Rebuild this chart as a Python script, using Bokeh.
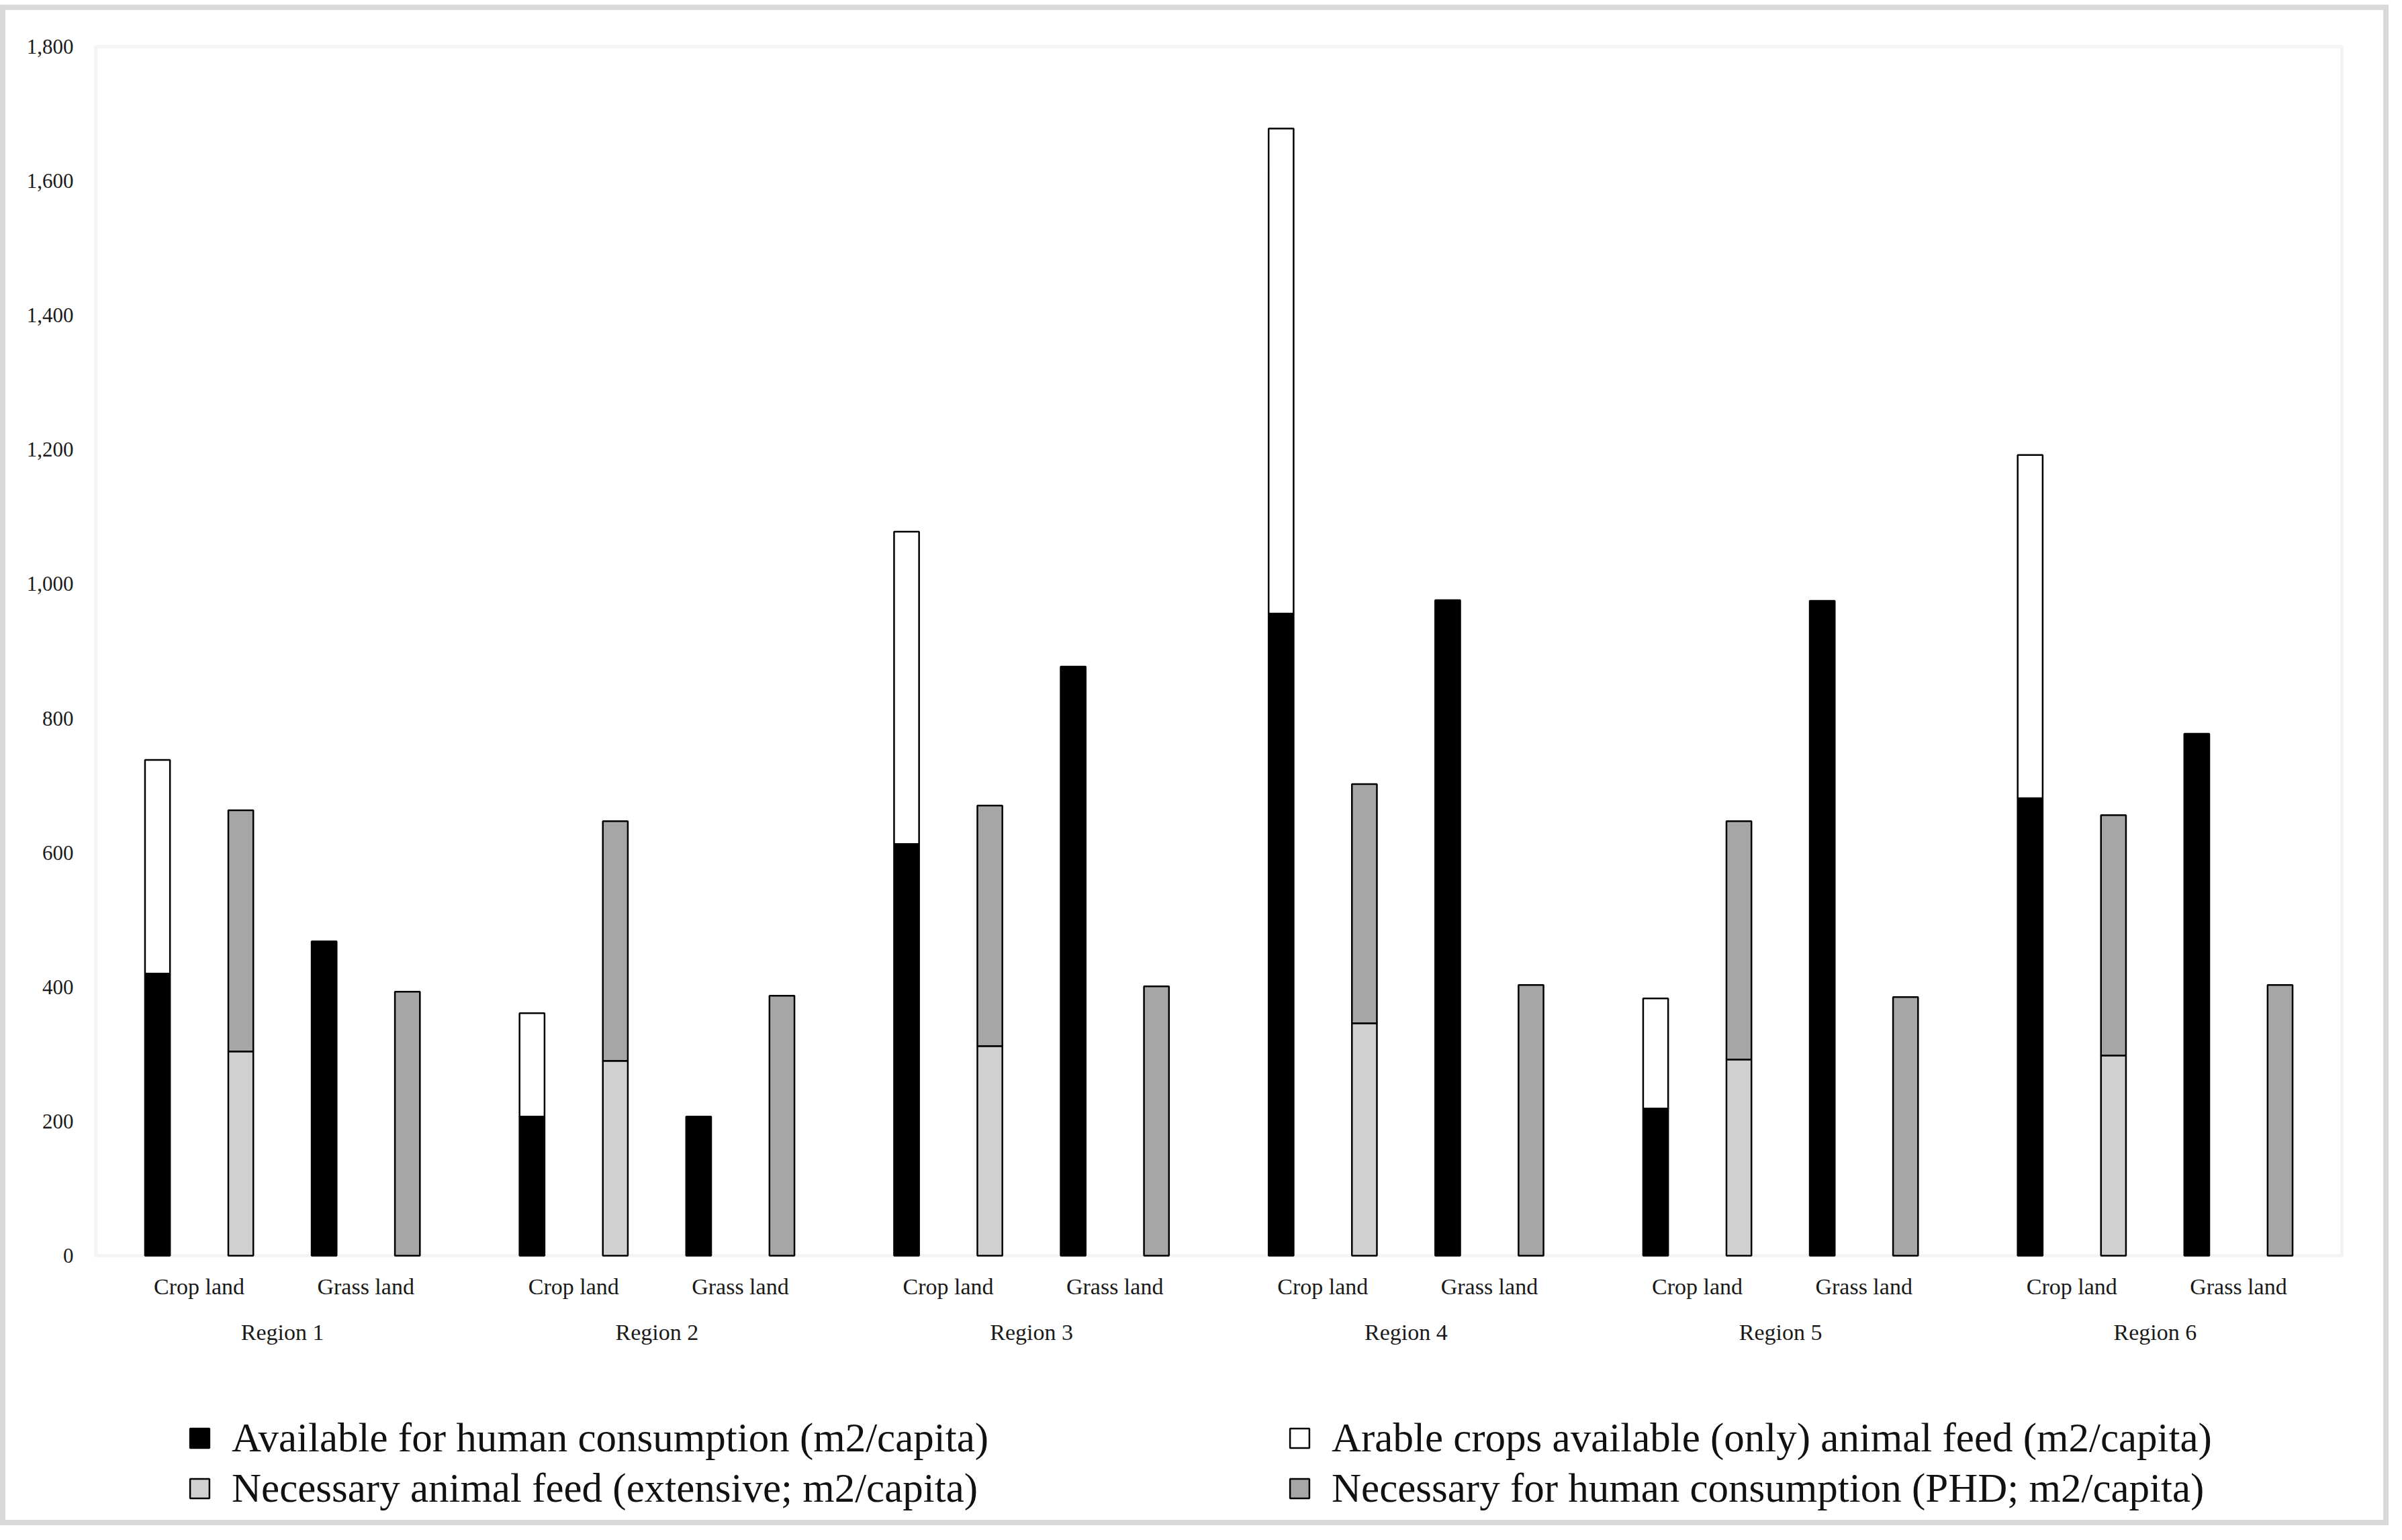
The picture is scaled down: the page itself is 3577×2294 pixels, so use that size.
from bokeh.plotting import figure
from bokeh.models import (FactorRange, ColumnDataSource, Legend, LegendItem,
                          NumeralTickFormatter, FixedTicker, Range1d, BoxAnnotation)
from bokeh.transform import dodge
from bokeh.embed import file_html
from bokeh.resources import INLINE

# ---------------- data ----------------
regions = ["Region 1", "Region 2", "Region 3", "Region 4", "Region 5", "Region 6"]
lands = ["Crop land", "Grass land"]

# Crop land
avail_crop = [420, 207, 613, 956, 219, 681]          # Available for human consumption
arable_feed_crop = [318, 154, 465, 722, 164, 511]    # Arable crops available (only) animal feed
nec_feed_crop = [304, 290, 312, 346, 292, 298]       # Necessary animal feed (extensive)
nec_human_crop = [359, 357, 358, 356, 355, 358]      # Necessary for human consumption (PHD)
# Grass land
avail_grass = [468, 207, 877, 976, 975, 777]
nec_human_grass = [393, 387, 401, 403, 385, 403]

series_names = [
    "Available for human consumption (m2/capita)",
    "Arable crops available (only) animal feed (m2/capita)",
    "Necessary animal feed (extensive; m2/capita)",
    "Necessary for human consumption (PHD; m2/capita)",
]
series_colors = ["#000000", "#ffffff", "#d0d0d0", "#a6a6a6"]

y_ticks = [0, 200, 400, 600, 800, 1000, 1200, 1400, 1600, 1800]

FONT = "Liberation Serif"

# ---------------- layout constants ----------------
GROUP_PAD = 0.248
INNER_PAD = 0.121          # plot-area padding outside the outer factors
EXTRA_PAD = 3 / 248.0      # frame a few px wider than the plot-area box
n_factors = len(regions) * len(lands)
box_left = -INNER_PAD
box_right = n_factors + (len(regions) - 1) * GROUP_PAD + INNER_PAD

x_range = FactorRange(*[(r, l) for r in regions for l in lands],
                      factor_padding=0.0, group_padding=GROUP_PAD,
                      range_padding=INNER_PAD + EXTRA_PAD,
                      range_padding_units="absolute")

Y_TOP = y_ticks[-1]
p = figure(x_range=x_range, y_range=Range1d(-393.8, Y_TOP + 3),
           frame_width=3351, frame_height=2198,
           min_border_left=131, min_border_right=59,
           min_border_top=51, min_border_bottom=0,
           output_backend="svg", toolbar_location=None)
p.styles = {"border": "8px solid #d9d9d9"}
p.margin = (7, 0, 0, 0)

p.background_fill_color = "white"
p.border_fill_color = "white"
p.outline_line_color = None
p.xgrid.grid_line_color = None
p.ygrid.grid_line_color = None

# plot-area border (light grey frame)
p.add_layout(BoxAnnotation(left=box_left, right=box_right, bottom=0, top=Y_TOP,
                           fill_alpha=0, line_color="#d9d9d9", line_width=5,
                           level="underlay"))

crop_src = ColumnDataSource(dict(
    x=[(r, "Crop land") for r in regions],
    avail=avail_crop, arable=arable_feed_crop,
    feed=nec_feed_crop, human=nec_human_crop))
grass_src = ColumnDataSource(dict(
    x=[(r, "Grass land") for r in regions],
    avail=avail_grass, human=nec_human_grass))

BW = 0.15
OFF = 0.25
LW = 2.5

r_crop_left = p.vbar_stack(["avail", "arable"], x=dodge("x", -OFF, range=p.x_range),
                           width=BW, source=crop_src,
                           fill_color=[series_colors[0], series_colors[1]],
                           line_color="black", line_width=LW)
r_crop_right = p.vbar_stack(["feed", "human"], x=dodge("x", OFF, range=p.x_range),
                            width=BW, source=crop_src,
                            fill_color=[series_colors[2], series_colors[3]],
                            line_color="black", line_width=LW)
r_grass_left = p.vbar(x=dodge("x", -OFF, range=p.x_range), top="avail", width=BW,
                      source=grass_src, fill_color=series_colors[0],
                      line_color="black", line_width=LW)
r_grass_right = p.vbar(x=dodge("x", OFF, range=p.x_range), top="human", width=BW,
                       source=grass_src, fill_color=series_colors[3],
                       line_color="black", line_width=LW)

# ---------------- axes ----------------
yax = p.yaxis[0]
yax.ticker = FixedTicker(ticks=y_ticks)
yax.formatter = NumeralTickFormatter(format="0,0")
yax.axis_line_color = None
yax.major_tick_line_color = None
yax.minor_tick_line_color = None
yax.major_tick_out = 0
yax.major_label_standoff = 30
yax.major_label_text_font = FONT
yax.major_label_text_font_size = "31px"
yax.major_label_text_color = "#1a1a1a"

xax = p.xaxis[0]
xax.fixed_location = 0
xax.axis_line_color = None
xax.major_tick_line_color = None
xax.minor_tick_line_color = None
xax.major_tick_out = 0
xax.major_label_standoff = 28
xax.major_label_text_font = FONT
xax.major_label_text_font_size = "34px"
xax.major_label_text_color = "#1a1a1a"
xax.group_text_font = FONT
xax.group_text_font_size = "34px"
xax.group_text_font_style = "normal"
xax.group_text_color = "#1a1a1a"
xax.separator_line_color = None

# ---------------- legends ----------------
def make_legend(items, loc):
    return Legend(items=items, location=loc, orientation="vertical",
                  glyph_width=36, glyph_height=36, label_standoff=30,
                  spacing=5, padding=0, margin=0,
                  label_text_font=FONT, label_text_font_size="61px",
                  label_text_color="#111111",
                  border_line_color=None, background_fill_alpha=0)

leg1 = make_legend([LegendItem(label=series_names[0], renderers=[r_crop_left[0]]),
                    LegendItem(label=series_names[2], renderers=[r_crop_right[0]])],
                   (140, 12))
leg2 = make_legend([LegendItem(label=series_names[1], renderers=[r_crop_left[1]]),
                    LegendItem(label=series_names[3], renderers=[r_crop_right[1]])],
                   (1778, 12))
p.add_layout(leg1, "center")
p.add_layout(leg2, "center")

open("out.html", "w").write(file_html(p, INLINE))
